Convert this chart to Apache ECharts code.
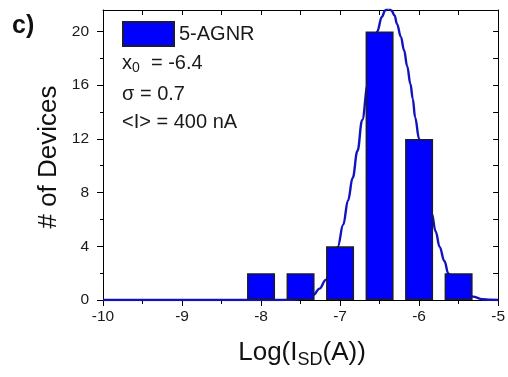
<!DOCTYPE html>
<html>
<head>
<meta charset="utf-8">
<script src="https://cdn.jsdelivr.net/npm/echarts@6/dist/echarts.min.js"></script>
<style>
  html, body { margin: 0; padding: 0; background: #fff; }
  #chart { width: 508px; height: 377px; }
</style>
</head>
<body>
<div id="chart"></div>
<script>
// ---- data ----
var binCenters = [-8.0, -7.5, -7.0, -6.5, -6.0, -5.5];
var binCounts  = [2, 2, 4, 20, 12, 2];

var curveX = [-10, -8.5, -7.8, -7.6, -7.45, -7.34, -7.26, -7.18, -7.1, -7.03, -6.96, -6.9, -6.84, -6.78,
              -6.72, -6.65, -6.59, -6.53, -6.47, -6.43, -6.39, -6.35, -6.31, -6.28, -6.23, -6.19, -6.15,
              -6.11, -6.08, -6.05, -6.0, -5.92, -5.84, -5.79, -5.74, -5.68, -5.63, -5.55, -5.45, -5.32,
              -5.2, -5.1, -5];
var curveY = [0, 0, 0, 0.02, 0.12, 0.37, 0.85, 1.5, 2.6, 3.96, 5.6, 7.4, 9.1, 11.1,
              13.4, 16.0, 18.2, 20.0, 21.1, 21.56, 21.75, 21.56, 21.2, 20.57, 19.6, 18.6, 17.4,
              16.1, 15.0, 13.6, 12.0, 9.1, 6.44, 5.1, 3.96, 2.9, 1.98, 1.2, 0.6, 0.25,
              0.06, 0.02, 0];

var xMin = -10, xMax = -5;
var yMin = 0, yMax = 21.6;
var yMajorTicks = [0, 4, 8, 12, 16, 20];
var yMinorTicks = [2, 6, 10, 14, 18];
var yRightTicks = [0, 2, 4, 6, 8, 10, 12, 14, 16, 18, 20];

var seriesName = '5-AGNR';
var infoLines = ['{m|x}{s|0}{m|  = -6.4}', 'σ = 0.7', '<I> = 400 nA'];

// ---- chart ----
var FONT = '"Liberation Sans", Arial, sans-serif';
var chart = echarts.init(document.getElementById('chart'), null, { renderer: 'canvas' });

var barData = binCenters.map(function (c, i) { return [c, binCounts[i]]; });
var curveData = curveX.map(function (x, i) { return [x, curveY[i]]; });

var gridRect = { left: 103, right: 6, top: 10, bottom: 77 };

var option = {
  backgroundColor: '#ffffff',
  animation: false,
  textStyle: { fontFamily: FONT },
  grid: [
    Object.assign({ containLabel: false }, gridRect),
    Object.assign({ containLabel: false }, gridRect)
  ],
  legend: {
    data: [seriesName],
    left: 122, top: 21,
    itemWidth: 51, itemHeight: 24,
    icon: 'rect',
    textStyle: { fontSize: 20, color: '#1a1a1a', fontFamily: FONT },
    padding: 0
  },
  xAxis: [
    {
      type: 'value', gridIndex: 0, position: 'bottom',
      min: xMin, max: xMax, interval: 1,
      axisLine: { show: true, onZero: false, lineStyle: { color: '#000', width: 1 } },
      axisTick: { show: true, inside: false, length: 6, lineStyle: { color: '#000' } },
      minorTick: { show: true, splitNumber: 2, length: 4, lineStyle: { color: '#000' } },
      axisLabel: { fontSize: 15.5, color: '#1a1a1a', margin: 9, fontFamily: FONT },
      splitLine: { show: false }
    },
    {
      type: 'value', gridIndex: 0, position: 'top',
      min: xMin, max: xMax, interval: 0.5,
      axisLine: { show: true, onZero: false, lineStyle: { color: '#000', width: 1 } },
      axisTick: { show: true, inside: true, length: 5, lineStyle: { color: '#000' } },
      axisLabel: { show: false },
      splitLine: { show: false }
    },
    {
      type: 'value', gridIndex: 1, position: 'bottom',
      min: xMin, max: xMax, show: false
    }
  ],
  yAxis: [
    {
      type: 'value', gridIndex: 0, position: 'left',
      min: yMin, max: yMax,
      axisLine: { show: true, onZero: false, lineStyle: { color: '#000', width: 1 } },
      axisTick: { show: true, inside: false, length: 6, customValues: yMajorTicks, lineStyle: { color: '#000' } },
      axisLabel: { fontSize: 15.5, color: '#1a1a1a', margin: 14, customValues: yMajorTicks, fontFamily: FONT },
      splitLine: { show: false }
    },
    {
      type: 'value', gridIndex: 0, position: 'right',
      min: yMin, max: yMax,
      axisLine: { show: true, onZero: false, lineStyle: { color: '#000', width: 1 } },
      axisTick: { show: true, inside: true, length: 5, customValues: yRightTicks, lineStyle: { color: '#000' } },
      axisLabel: { show: false },
      splitLine: { show: false }
    },
    {
      type: 'value', gridIndex: 1, position: 'left',
      min: yMin, max: yMax,
      axisLine: { show: false },
      axisTick: { show: true, inside: false, length: 3, customValues: yMinorTicks, lineStyle: { color: '#000' } },
      axisLabel: { show: false },
      splitLine: { show: false }
    }
  ],
  series: [
    {
      name: 'fit',
      type: 'line',
      xAxisIndex: 0, yAxisIndex: 0,
      data: curveData,
      smooth: 0.4,
      smoothMonotone: 'x',
      showSymbol: false,
      clip: true,
      z: 2,
      lineStyle: { color: '#1212c0', width: 2.4 },
      itemStyle: { color: '#1212c0' }
    },
    {
      name: seriesName,
      type: 'bar',
      xAxisIndex: 0, yAxisIndex: 0,
      data: barData,
      barWidth: 28,
      z: 3,
      itemStyle: { color: '#0000ff', borderColor: '#1a1a3a', borderWidth: 1.6 }
    }
  ],
  graphic: [
    {
      type: 'text', x: 12, y: 14,
      style: { text: 'c)', font: 'bold 25px ' + FONT, fill: '#111' }
    },
    {
      type: 'text', x: 49, y: 157, rotation: Math.PI / 2,
      style: { text: '# of Devices', font: '26px ' + FONT, fill: '#111', align: 'center', verticalAlign: 'middle' }
    },
    {
      type: 'text', x: 302, y: 353,
      style: {
        text: '{m|Log(I}{s|SD}{m|(A))}',
        align: 'center', verticalAlign: 'middle', fill: '#111',
        rich: {
          m: { fontSize: 26, fontFamily: FONT, fill: '#111' },
          s: { fontSize: 18, fontFamily: FONT, fill: '#111', padding: [14, 0, 0, 0] }
        }
      }
    },
    {
      type: 'text', x: 122, y: 63,
      style: {
        text: infoLines[0], align: 'left', verticalAlign: 'middle', fill: '#222',
        rich: {
          m: { fontSize: 20, fontFamily: FONT, fill: '#1a1a1a' },
          s: { fontSize: 14, fontFamily: FONT, fill: '#1a1a1a', padding: [11, 0, 0, 0] }
        }
      }
    },
    {
      type: 'text', x: 122, y: 94,
      style: { text: infoLines[1], font: '20px ' + FONT, fill: '#1a1a1a', align: 'left', verticalAlign: 'middle' }
    },
    {
      type: 'text', x: 122, y: 122,
      style: { text: infoLines[2], font: '20px ' + FONT, fill: '#1a1a1a', align: 'left', verticalAlign: 'middle' }
    }
  ]
};

chart.setOption(option);
</script>
</body>
</html>
